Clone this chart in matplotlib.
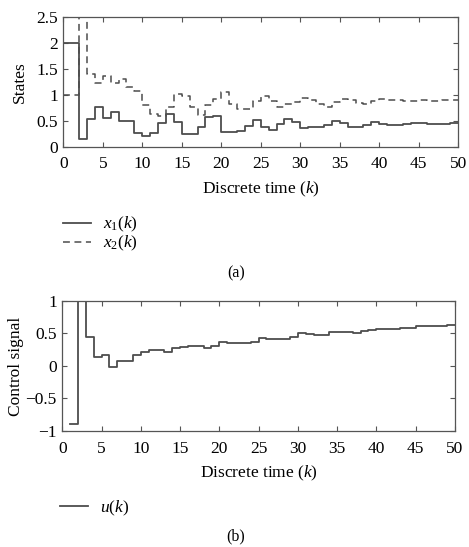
import numpy as np
import matplotlib
matplotlib.use("Agg")
import matplotlib.pyplot as plt

plt.rcParams['font.family'] = ['Liberation Serif', 'DejaVu Serif']
plt.rcParams['mathtext.fontset'] = 'custom'
plt.rcParams['mathtext.rm'] = 'Liberation Serif'
plt.rcParams['mathtext.it'] = 'Liberation Serif:italic'
plt.rcParams['axes.unicode_minus'] = True

# states x1(k), x2(k), k = 0..50
k_states = np.arange(0, 51)
x1 = [2.0, 2.0, 0.14, 0.53, 0.76, 0.55, 0.68, 0.49, 0.49, 0.27, 0.21, 0.27, 0.46,
      0.63, 0.47, 0.25, 0.25, 0.39, 0.57, 0.59, 0.28, 0.28, 0.31, 0.40, 0.52, 0.39,
      0.33, 0.43, 0.54, 0.48, 0.37, 0.38, 0.38, 0.42, 0.50, 0.45, 0.39, 0.39, 0.42,
      0.47, 0.44, 0.42, 0.42, 0.44, 0.46, 0.46, 0.44, 0.44, 0.44, 0.46, 0.46]
x2 = [1.0, 1.0, 4.0, 1.41, 1.24, 1.37, 1.24, 1.30, 1.15, 1.07, 0.80, 0.64, 0.59,
      0.76, 1.01, 0.98, 0.76, 0.62, 0.80, 0.93, 1.06, 0.83, 0.73, 0.73, 0.88, 0.98,
      0.89, 0.77, 0.82, 0.87, 0.95, 0.91, 0.82, 0.77, 0.87, 0.93, 0.90, 0.85, 0.82,
      0.89, 0.92, 0.90, 0.90, 0.89, 0.89, 0.90, 0.89, 0.89, 0.90, 0.91, 0.91]

# control signal u(k), k = 1..50
k_ctrl = np.arange(1, 51)
u = [-0.9, 1.0, 0.45, 0.14, 0.17, -0.02, 0.07, 0.07, 0.17, 0.22, 0.25, 0.24, 0.21,
     0.27, 0.29, 0.30, 0.30, 0.28, 0.30, 0.37, 0.35, 0.35, 0.35, 0.37, 0.43, 0.42,
     0.42, 0.42, 0.45, 0.50, 0.49, 0.47, 0.47, 0.53, 0.52, 0.52, 0.51, 0.54, 0.56,
     0.57, 0.57, 0.57, 0.58, 0.59, 0.61, 0.61, 0.61, 0.61, 0.63, 0.63]

xticks = np.arange(0, 51, 5)
lc = '#4d4d4d'
fs = 12.5

fig = plt.figure(figsize=(4.69, 5.47), dpi=100)


def style(ax):
    for s in ax.spines.values():
        s.set_color('#555555')
        s.set_linewidth(0.9)
    ax.tick_params(direction='in', top=True, right=True, length=3.5,
                   width=0.8, color='#555555', labelsize=fs, pad=4)
    ax.tick_params(axis='x', pad=7)
    ax.set_xlim(0, 50)
    ax.set_xticks(xticks)
    ax.set_xlabel('Discrete time ($k$)', fontsize=fs, labelpad=5)


ax1 = fig.add_axes([0.135, 0.7318, 0.842, 0.2366])
l1, = ax1.step(k_states, x1, where='post', color=lc, lw=1.3)
l2, = ax1.step(k_states, x2, where='post', color=lc, lw=1.1,
               linestyle=(0, (4.5, 3)))
ax1.set_ylim(0, 2.5)
ax1.set_yticks([0, 0.5, 1, 1.5, 2, 2.5])
ax1.set_yticklabels(['0', '0.5', '1', '1.5', '2', '2.5'])
ax1.set_ylabel('States', fontsize=fs, labelpad=6)
style(ax1)
fig.legend([l1, l2], ['$x_1(k)$', '$x_2(k)$'], loc='upper left',
           bbox_to_anchor=(0.134, 0.607), frameon=False, fontsize=fs,
           handlelength=1.6, handletextpad=0.7, labelspacing=0.0,
           borderpad=0, borderaxespad=0)
fig.text(0.503, 0.5009, '(a)', ha='center', va='center', fontsize=11.5)

ax2 = fig.add_axes([0.1328, 0.2121, 0.837, 0.2377])
l3, = ax2.step(k_ctrl, u, where='post', color=lc, lw=1.3)
ax2.set_ylim(-1, 1)
ax2.set_yticks([-1, -0.5, 0, 0.5, 1])
ax2.set_yticklabels(['\u22121', '\u22120.5', '0', '0.5', '1'])
ax2.set_ylabel('Control signal', fontsize=fs, labelpad=1)
style(ax2)
fig.legend([l3], ['$u(k)$'], loc='upper left',
           bbox_to_anchor=(0.128, 0.089), frameon=False, fontsize=fs,
           handlelength=1.6, handletextpad=0.7, borderpad=0, borderaxespad=0)
fig.text(0.503, 0.0188, '(b)', ha='center', va='center', fontsize=11.5)

fig.savefig('out.png', dpi=100)
